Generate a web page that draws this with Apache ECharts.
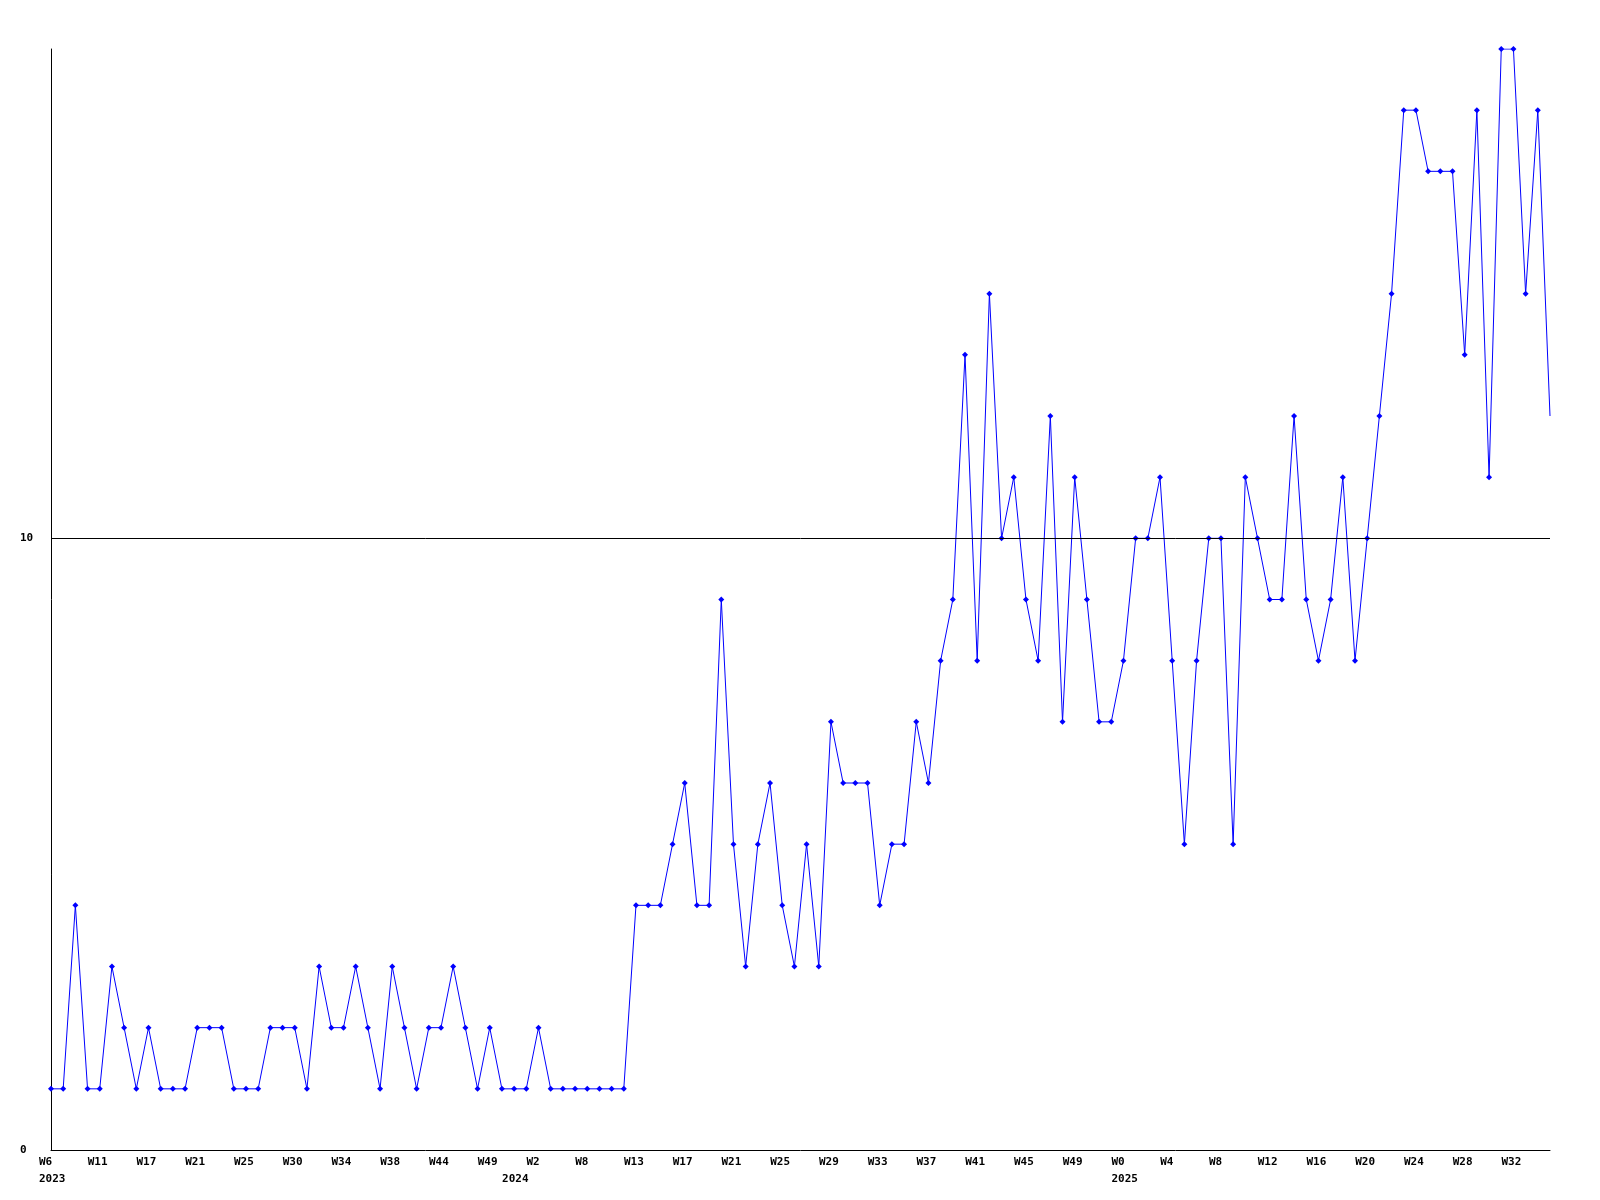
<!DOCTYPE html>
<html><head><meta charset="utf-8">
<script src="https://cdn.jsdelivr.net/npm/echarts@6/dist/echarts.min.js"></script>
<style>html,body{margin:0;padding:0;background:#fff}#c{width:1600px;height:1200px}</style>
</head><body><div id="c"></div>
<script>
// weekly counts, one per point
const values = [
  1,1,4,1,1,3,2,1,2,1,
  1,1,2,2,2,1,1,1,2,2,
  2,1,3,2,2,3,2,1,3,2,
  1,2,2,3,2,1,2,1,1,1,
  2,1,1,1,1,1,1,1,4,4,
  4,5,6,4,4,9,5,3,5,6,
  4,3,5,3,7,6,6,6,4,5,
  5,7,6,8,9,13,8,14,10,11,
  9,8,12,7,11,9,7,7,8,10,
  10,11,8,5,8,10,10,5,11,10,
  9,9,12,9,8,9,11,8,10,12,
  14,17,17,16,16,16,13,17,11,18,
  18,14,17,12
];
// week tick labels, one for every 4th point starting at the first
const tickLabels = ['W6','W11','W17','W21','W25','W30','W34','W38','W44','W49',
  'W2','W8','W13','W17','W21','W25','W29','W33','W37','W41','W45','W49',
  'W0','W4','W8','W12','W16','W20','W24','W28','W32'];
const yearLabels = ['2023','2024','2025'];
const yearAt = [0, 38, 88];
const yTickLabels = [0, 10];
const refLineValue = 10;

const categories = values.map((_, i) => String(i));
const seriesData = values.map((v, i) => i === values.length - 1 ? {value: v, symbol: 'none'} : v);

const FONT = 'DejaVu Sans Mono';
const chart = echarts.init(document.getElementById('c'), null, {renderer: 'canvas'});
chart.setOption({
  animation: false,
  backgroundColor: '#ffffff',
  grid: {left: 51, right: 50, top: 49, bottom: 50, containLabel: false, outerBoundsMode: 'none'},
  xAxis: [{
    type: 'category', data: categories, boundaryGap: false,
    axisLine: {show: true, lineStyle: {color: '#000', width: 1}},
    axisTick: {show: false},
    splitLine: {show: false},
    axisLabel: {
      interval: (i) => i % 4 === 0,
      formatter: (v, i) => tickLabels[i / 4] || '',
      align: 'left', padding: [0, 0, 0, -12], margin: 5,
      fontFamily: FONT, fontSize: 11, fontWeight: 'bold', color: '#000', lineHeight: 14
    }
  }, {
    type: 'category', data: categories, boundaryGap: false, position: 'bottom', offset: 17,
    axisLine: {show: false}, axisTick: {show: false}, splitLine: {show: false},
    axisLabel: {
      interval: (i) => yearAt.indexOf(i) >= 0,
      formatter: (v, i) => { const k = yearAt.indexOf(i); return k >= 0 ? yearLabels[k] : ''; },
      align: 'left', padding: [0, 0, 0, -12], margin: 5,
      fontFamily: FONT, fontSize: 11, fontWeight: 'bold', color: '#000', lineHeight: 14
    }
  }],
  yAxis: {
    type: 'value', min: 0, max: 18, interval: 10,
    axisLine: {show: true, lineStyle: {color: '#000', width: 1}},
    axisTick: {show: false},
    splitLine: {show: false},
    axisLabel: {
      showMaxLabel: false,
      formatter: (v) => yTickLabels.indexOf(v) >= 0 ? String(v) : '',
      align: 'left', margin: 31,
      fontFamily: FONT, fontSize: 11, fontWeight: 'bold', color: '#000'
    }
  },
  series: [{
    type: 'line', data: seriesData,
    symbol: 'diamond', symbolSize: 6, showSymbol: true,
    lineStyle: {color: '#0000ff', width: 1},
    itemStyle: {color: '#0000ff'},
    markLine: {
      silent: true, symbol: 'none', label: {show: false},
      lineStyle: {color: '#000', type: 'solid', width: 1},
      data: [{yAxis: refLineValue}]
    }
  }]
});
</script>
</body></html>
